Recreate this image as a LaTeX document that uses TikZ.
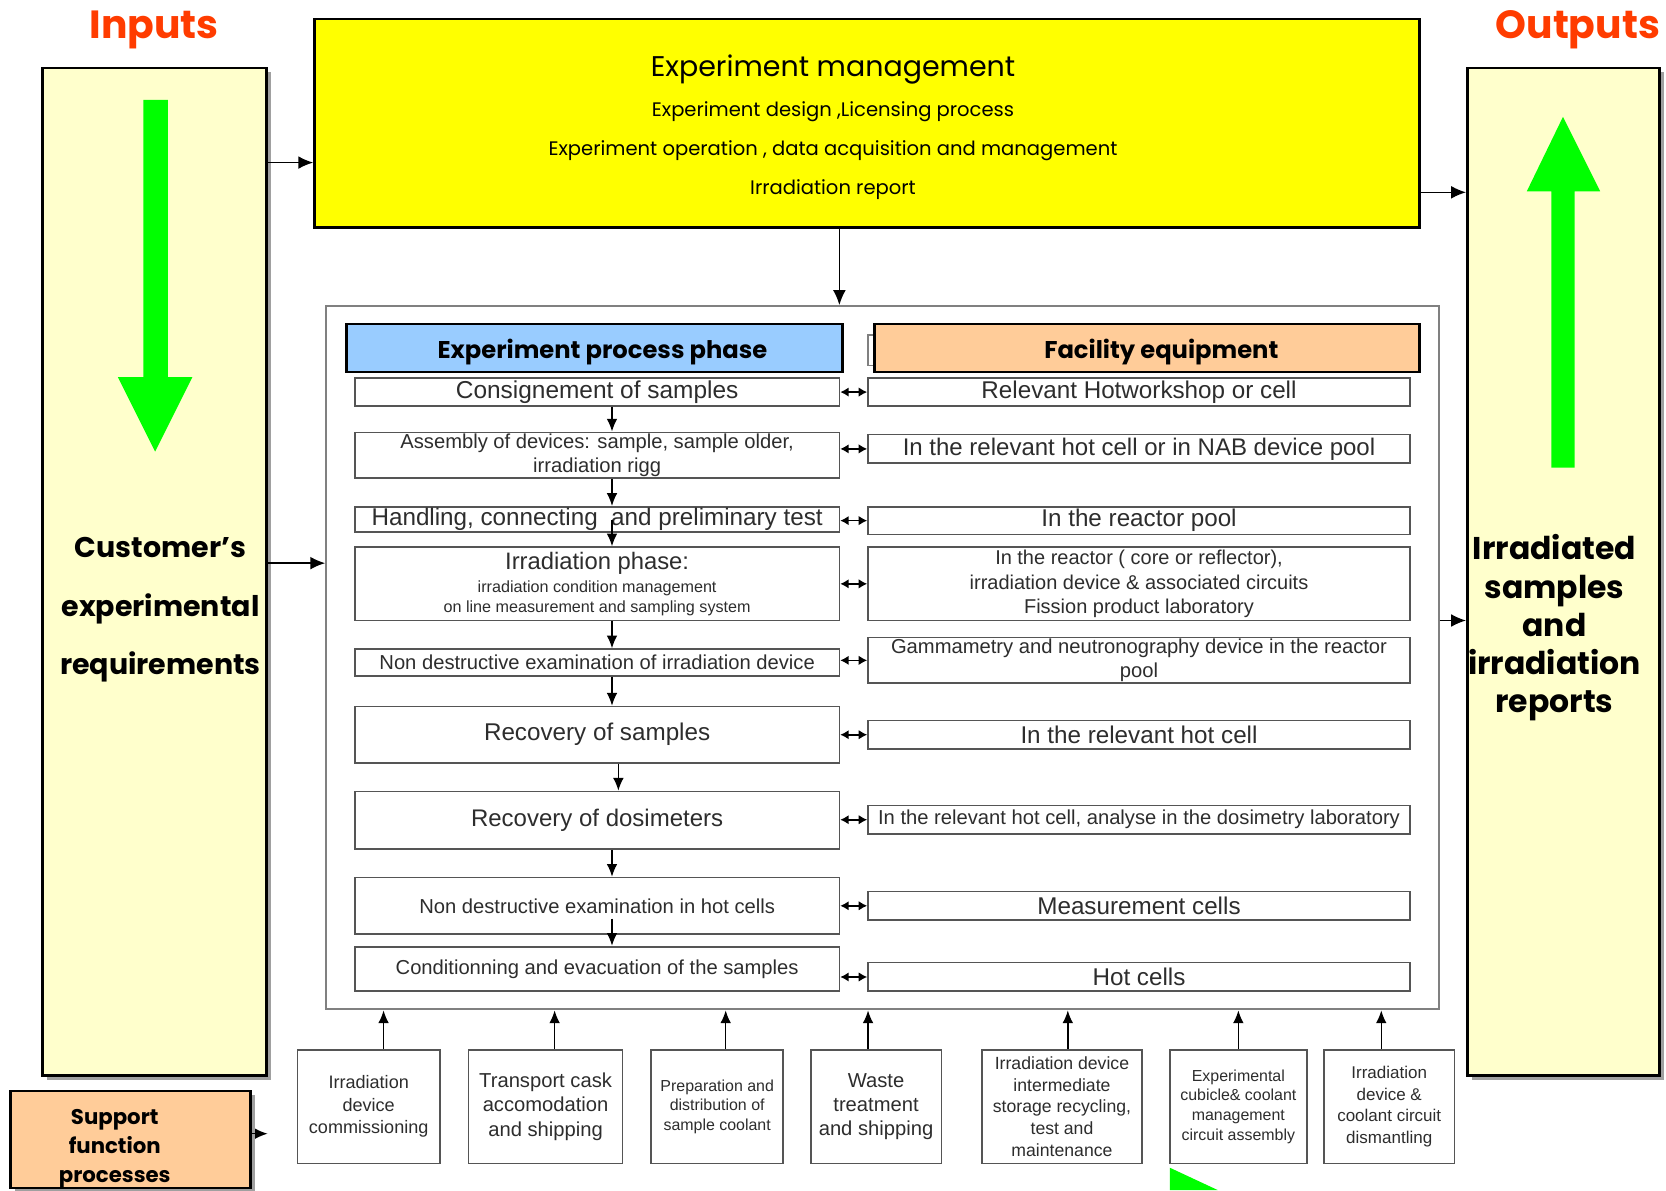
\documentclass[tikz,border=0pt]{standalone}
\usepackage{fontspec}
\setmainfont{Liberation Sans}
\newfontfamily\comicf{Poppins}
\usetikzlibrary{arrows.meta}
\definecolor{inred}{RGB}{255,60,0}
\definecolor{paleyel}{RGB}{255,255,204}
\definecolor{mgmtyel}{RGB}{255,255,0}
\definecolor{brightgreen}{RGB}{0,255,0}
\definecolor{hdrblue}{RGB}{153,204,255}
\definecolor{hdrorange}{RGB}{255,204,153}
\definecolor{boxgray}{RGB}{85,85,85}
\definecolor{txtgray}{RGB}{45,45,45}
\definecolor{shadowgray}{RGB}{160,160,160}
\newcommand\fsz[2]{\fontsize{#1}{#2}\selectfont}
\newcommand\drawbox[7]{\node[#6, minimum width={(#4-#2)*0.5pt}, minimum height={(#5-#3)*0.5pt}] (#1) at ({(#2+#4)/2},{(#3+#5)/2}) {#7};}
\begin{document}
\begin{tikzpicture}[x=0.5pt,y=-0.5pt,
  pbx/.style={draw=boxgray, line width=0.8pt, fill=white, text=txtgray, align=center, inner sep=0pt},
  bigbox/.style={draw=black, line width=1.2pt, fill=paleyel, inner sep=0pt},
  ybox/.style={draw=black, line width=1.2pt, fill=mgmtyel, inner sep=0pt},
  hdr/.style={draw=black, line width=1.3pt, inner sep=0pt},
  hdrtxt/.style={font=\comicf\bfseries\fsz{11.4}{13}, inner sep=0pt},
  ctr/.style={draw=gray, line width=0.9pt, inner sep=0pt},
  flow/.style={-{Latex[length=6pt,width=5pt]}, line width=0.7pt, draw=black},
  mainflow/.style={-{Latex[length=7pt,width=6pt]}, line width=0.7pt, draw=black},
  dbl/.style={{Latex[length=4pt,width=4.5pt]}-{Latex[length=4pt,width=4.5pt]}, line width=0.8pt, draw=black},
  bigtxt/.style={font=\comicf\bfseries\fsz{13.4}{27.5}, align=center, inner sep=0pt},
  ttl/.style={font=\comicf\bfseries\fsz{18.5}{20}, text=inred, inner sep=0pt}
]
\useasboundingbox (0,0) rectangle (1568,1120);

% titles
\node[ttl] (tin) at (145,28) {Inputs};
\node[ttl] (tout) at (1485,28) {Outputs};

% side boxes with shadows
\fill[shadowgray] (44,68) rectangle (255,1016);
\drawbox{LB}{40}{64}{251}{1012}{bigbox}{}
\fill[shadowgray] (1385,68) rectangle (1566,1016);
\drawbox{RB}{1381}{64}{1562}{1012}{bigbox}{}

% green arrows
\fill[brightgreen] (135,94) -- (158,94) -- (158,355) -- (181,355) -- (146,425) -- (111,355) -- (135,355) -- cycle;
\fill[brightgreen] (1460,440) -- (1482,440) -- (1482,180) -- (1506,180) -- (1471,110) -- (1437,180) -- (1460,180) -- cycle;

\node[bigtxt] (lbt) at (151,574) {Customer’s\\experimental\\requirements};
\node[bigtxt, font=\comicf\bfseries\fsz{14.8}{18}] (rbt) at (1463,591) {Irradiated\\samples\\and\\irradiation\\reports};

% management box
\drawbox{Y}{296}{18}{1336}{214}{ybox}{}
\node[font=\comicf\fsz{9.2}{18.5}, align=center, inner sep=0pt] (yt) at (784,120) {{\fsz{13.4}{18.5}Experiment management}\\Experiment design ,Licensing process\\Experiment operation , data acquisition and management\\Irradiation report};

% container
\drawbox{C}{307}{288}{1354}{950}{ctr}{}

% headers
\draw[gray, line width=0.8pt] (817,315) rectangle (1330,344);
\drawbox{HB}{326}{305}{793}{350}{hdr, fill=hdrblue}{}
\drawbox{HF}{823}{305}{1336}{350}{hdr, fill=hdrorange}{}
\node[hdrtxt] (hbt) at (567,331) {Experiment process phase};
\node[hdrtxt] (hft) at (1093,331) {Facility equipment};

% left column
\drawbox{L1}{334}{356}{790}{382}{pbx, font=\fsz{11.5}{13}}{Consignement of samples}
\drawbox{L2}{334}{407}{790}{450}{pbx, font=\fsz{9.5}{11}}{Assembly of devices: sample, sample older,\\irradiation rigg}
\drawbox{L3}{334}{477}{790}{501}{pbx, font=\fsz{11.4}{12}}{Handling, connecting\ \ and preliminary test}
\drawbox{L4}{334}{515}{790}{584}{pbx, font=\fsz{7.6}{9}}{{\fsz{11.2}{11}Irradiation phase:}\\[2pt]irradiation condition management\\on line measurement and sampling system}
\drawbox{L5}{334}{611}{790}{636}{pbx, font=\fsz{9.5}{10}}{Non destructive examination of irradiation device}
\drawbox{L6}{334}{665}{790}{718}{pbx, font=\fsz{11.4}{13}}{Recovery of samples}
\drawbox{L7}{334}{745}{790}{799}{pbx, font=\fsz{11.3}{13}}{Recovery of dosimeters}
\drawbox{L8}{334}{826}{790}{879}{pbx, font=\fsz{9.5}{10}}{Non destructive examination in hot cells}
\drawbox{L9}{334}{891}{790}{933}{pbx, font=\fsz{9.5}{11}}{Conditionning and evacuation of the samples}

% right column
\drawbox{R1}{817}{356}{1327}{382}{pbx, font=\fsz{11.4}{13}}{Relevant Hotworkshop or cell}
\drawbox{R2}{817}{409}{1327}{436}{pbx, font=\fsz{11.3}{12}}{In the relevant hot cell or in NAB device pool}
\drawbox{R3}{817}{477}{1327}{503}{pbx, font=\fsz{11.4}{13}}{In the reactor pool}
\drawbox{R4}{817}{515}{1327}{584}{pbx, font=\fsz{9.4}{11.5}}{In the reactor ( core or reflector),\\irradiation device \& associated circuits\\Fission product laboratory}
\drawbox{R5}{817}{600}{1327}{643}{pbx, font=\fsz{9.5}{11.5}}{Gammametry and neutronography device in the reactor\\pool}
\drawbox{R6}{817}{678}{1327}{705}{pbx, font=\fsz{11.4}{13}}{In the relevant hot cell}
\drawbox{R7}{817}{758}{1327}{785}{pbx, font=\fsz{9.5}{10}}{In the relevant hot cell, analyse in the dosimetry laboratory}
\drawbox{R8}{817}{839}{1327}{866}{pbx, font=\fsz{11.4}{13}}{Measurement cells}
\drawbox{R9}{817}{906}{1327}{933}{pbx, font=\fsz{11.4}{13}}{Hot cells}

% double arrows
\foreach \i in {1,...,9} {\draw[dbl] (L\i.east |- R\i.west) -- (R\i.west);}

% flow arrows in left column
\draw[flow] ([xshift=7pt]L1.south) -- ([xshift=7pt]L2.north);
\draw[flow] ([xshift=7pt]L2.south) -- ([xshift=7pt]L3.north);
\draw[flow] ([xshift=7pt]L3.center) -- ([xshift=7pt]L4.north);
\draw[flow] ([xshift=7pt]L4.south) -- ([xshift=7pt]L5.north);
\draw[flow] ([xshift=7pt]L5.south) -- ([xshift=7pt]L6.north);
\draw[flow] ([xshift=10pt]L6.south) -- ([xshift=10pt]L7.north);
\draw[flow] ([xshift=7pt]L7.south) -- ([xshift=7pt]L8.north);
\draw[flow] ([xshift=7pt,yshift=-6pt]L8.center) -- ([xshift=7pt]L9.north);

% support boxes
\drawbox{S1}{280}{988}{414}{1095}{pbx, font=\fsz{8.5}{10.5}}{Irradiation\\device\\commissioning}
\drawbox{S2}{441}{988}{586}{1095}{pbx, font=\fsz{9.5}{11.5}}{Transport cask\\accomodation\\and shipping}
\drawbox{S3}{613}{988}{737}{1095}{pbx, font=\fsz{7.5}{9.25}}{Preparation and\\distribution of\\sample coolant}
\drawbox{S4}{763}{988}{886}{1095}{pbx, font=\fsz{9.5}{11.5}}{Waste\\treatment\\and shipping}
\drawbox{S5}{924}{988}{1075}{1095}{pbx, font=\fsz{8.3}{10.25}}{Irradiation device\\intermediate\\storage recycling,\\test and\\maintenance}
\drawbox{S6}{1101}{988}{1230}{1095}{pbx, font=\fsz{7.5}{9.25}}{Experimental\\cubicle\& coolant\\management\\circuit assembly}
\drawbox{S7}{1246}{988}{1369}{1095}{pbx, font=\fsz{8}{10.25}}{Irradiation\\device \&\\coolant circuit\\dismantling}

\coordinate (s1t) at ([xshift=7pt]S1.north);
\coordinate (s2t) at ([xshift=4.25pt]S2.north);
\coordinate (s3t) at ([xshift=4pt]S3.north);
\coordinate (s4t) at ([xshift=-3.75pt]S4.north);
\coordinate (s5t) at ([xshift=2.75pt]S5.north);
\coordinate (s6t) at (S6.north);
\coordinate (s7t) at ([xshift=-3.75pt]S7.north);
\foreach \s in {s1t,s2t,s3t,s4t,s5t,s6t,s7t} {\draw[flow] (\s) -- (\s |- C.south);}

% support function box
\fill[shadowgray] (14,1031) rectangle (240,1122);
\drawbox{SF}{10}{1027}{236}{1118}{bigbox, fill=hdrorange}{}
\node[font=\comicf\bfseries\fsz{10}{13.5}, align=center, inner sep=0pt] (sft) at (108,1081) {Support\\function\\processes};
\coordinate (sfe) at (252,1067);
\draw[flow] (SF.east |- sfe) -- (sfe);

% main connectors
\coordinate (a1) at (0,153);
\coordinate (a2) at (0,181);
\coordinate (a3) at (790,0);
\coordinate (a4) at (0,530);
\coordinate (a5) at (0,584);
\draw[mainflow] (LB.east |- a1) -- (Y.west |- a1);
\draw[mainflow] (Y.east |- a2) -- (RB.west |- a2);
\draw[mainflow] (Y.south -| a3) -- (C.north -| a3);
\draw[mainflow] (LB.east |- a4) -- (C.west |- a4);
\draw[mainflow] (C.east |- a5) -- (RB.west |- a5);

% green triangle at bottom
\fill[brightgreen] (1101,1099) -- (1101,1120) -- (1146,1120) -- cycle;
\end{tikzpicture}
\end{document}
